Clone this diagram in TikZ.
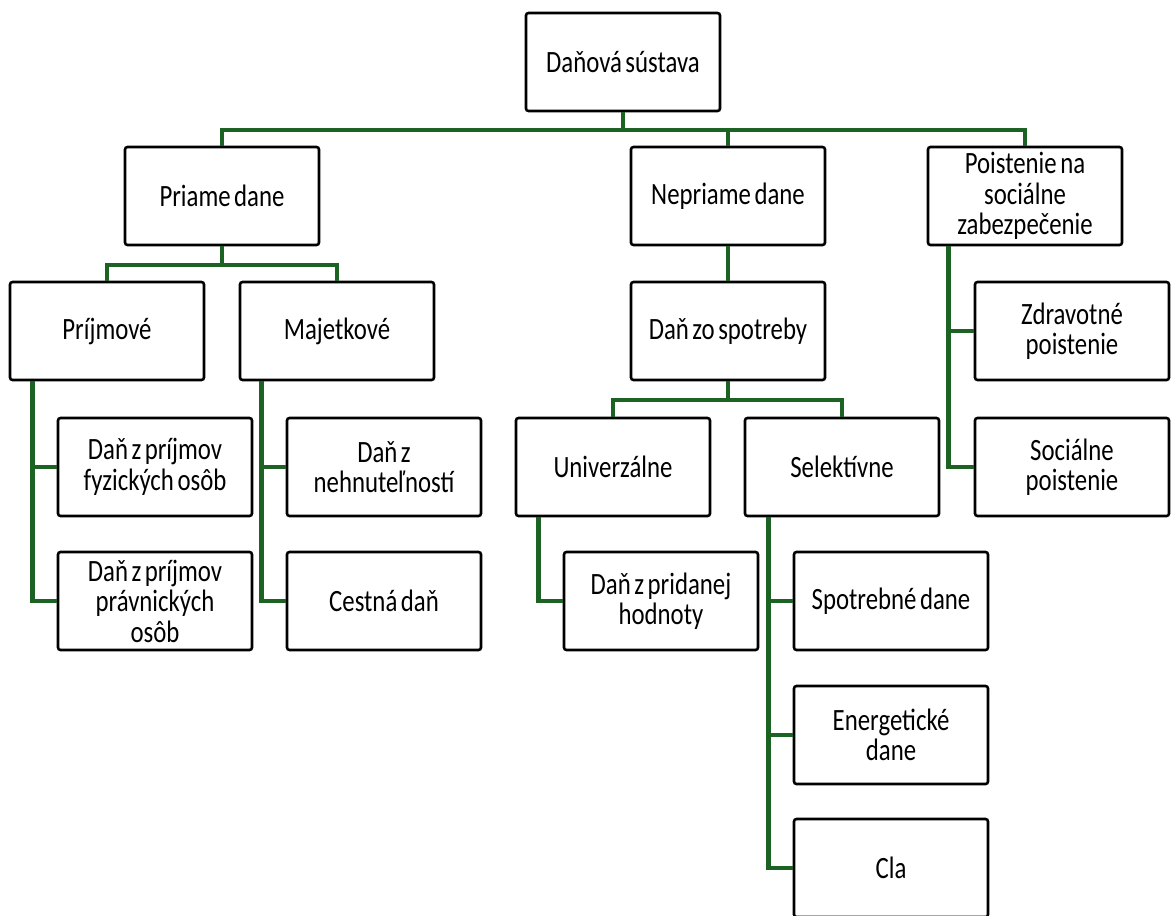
\documentclass[tikz,border=0pt]{standalone}
\usepackage{fontspec}
\setmainfont{Carlito}[FakeStretch=0.8]
\definecolor{conn}{RGB}{28,98,34}
\newcommand{\ws}{\hspace{3.5pt}}
\begin{document}
\begin{tikzpicture}[x=1pt,y=-1pt,
  box/.style={draw=black,line width=2.6pt,rounded corners=2.5pt,fill=white,
    minimum width=194pt,minimum height=98pt,align=center,text width=192pt,
    font=\fontsize{31}{30.5}\selectfont,inner sep=0pt},
  link/.style={draw=conn,line width=4.6pt}]
\useasboundingbox (0,0) rectangle (1171,916);
% nodes
\node[box] (root) at (623,62) {Daňová\ws sústava};
\node[box] (pri) at (222,196) {Priame\ws dane};
\node[box] (nep) at (728,196) {Nepriame\ws dane};
\node[box] (poi) at (1025,196) {Poistenie\ws na\\sociálne\\zabezpečenie};
\node[box] (prj) at (107,331) {Príjmové};
\node[box] (maj) at (337,331) {Majetkové};
\node[box] (spo) at (728,331) {Daň\ws zo\ws spotreby};
\node[box] (zdr) at (1072,331) {Zdravotné\\poistenie};
\node[box] (fyz) at (155,467) {Daň\ws z\ws príjmov\\fyzických\ws osôb};
\node[box] (neh) at (384,467) {Daň\ws z\\nehnuteľností};
\node[box] (uni) at (613,467) {Univerzálne};
\node[box] (sel) at (842,467) {Selektívne};
\node[box] (soc) at (1072,467) {Sociálne\\poistenie};
\node[box] (prav) at (155,601) {Daň\ws z\ws príjmov\\právnických\\osôb};
\node[box] (ces) at (384,601) {Cestná\ws daň};
\node[box] (dph) at (661,601) {Daň\ws z\ws pridanej\\hodnoty};
\node[box] (spd) at (891,601) {Spotrebné\ws dane};
\node[box] (ene) at (891,735) {Energetické\\dane};
\node[box] (cla) at (891,868) {Cla};
% connector coordinates
\coordinate (b0) at (623,130);
\coordinate (b1) at (222,265);
\coordinate (b2) at (728,400);
% connectors
\draw[link] (root.south) -- (b0);
\draw[link] (b0) -| (pri.north);
\draw[link] (b0) -| (nep.north);
\draw[link] (b0) -| (poi.north);
\draw[link] (pri.south) -- (b1);
\draw[link] (b1) -| (prj.north);
\draw[link] (b1) -| (maj.north);
\draw[link] (nep.south) -- (spo.north);
\draw[link] (spo.south) -- (b2);
\draw[link] (b2) -| (uni.north);
\draw[link] (b2) -| (sel.north);
\draw[link] (prj.south west) ++(24,0) |- (fyz.west);
\draw[link] (prj.south west) ++(24,0) |- (prav.west);
\draw[link] (maj.south west) ++(23,0) |- (neh.west);
\draw[link] (maj.south west) ++(23,0) |- (ces.west);
\draw[link] (uni.south west) ++(24,0) |- (dph.west);
\draw[link] (sel.south west) ++(25,0) |- (spd.west);
\draw[link] (sel.south west) ++(25,0) |- (ene.west);
\draw[link] (sel.south west) ++(25,0) |- (cla.west);
\draw[link] (poi.south west) ++(22,0) |- (zdr.west);
\draw[link] (poi.south west) ++(22,0) |- (soc.west);
\end{tikzpicture}
\end{document}
